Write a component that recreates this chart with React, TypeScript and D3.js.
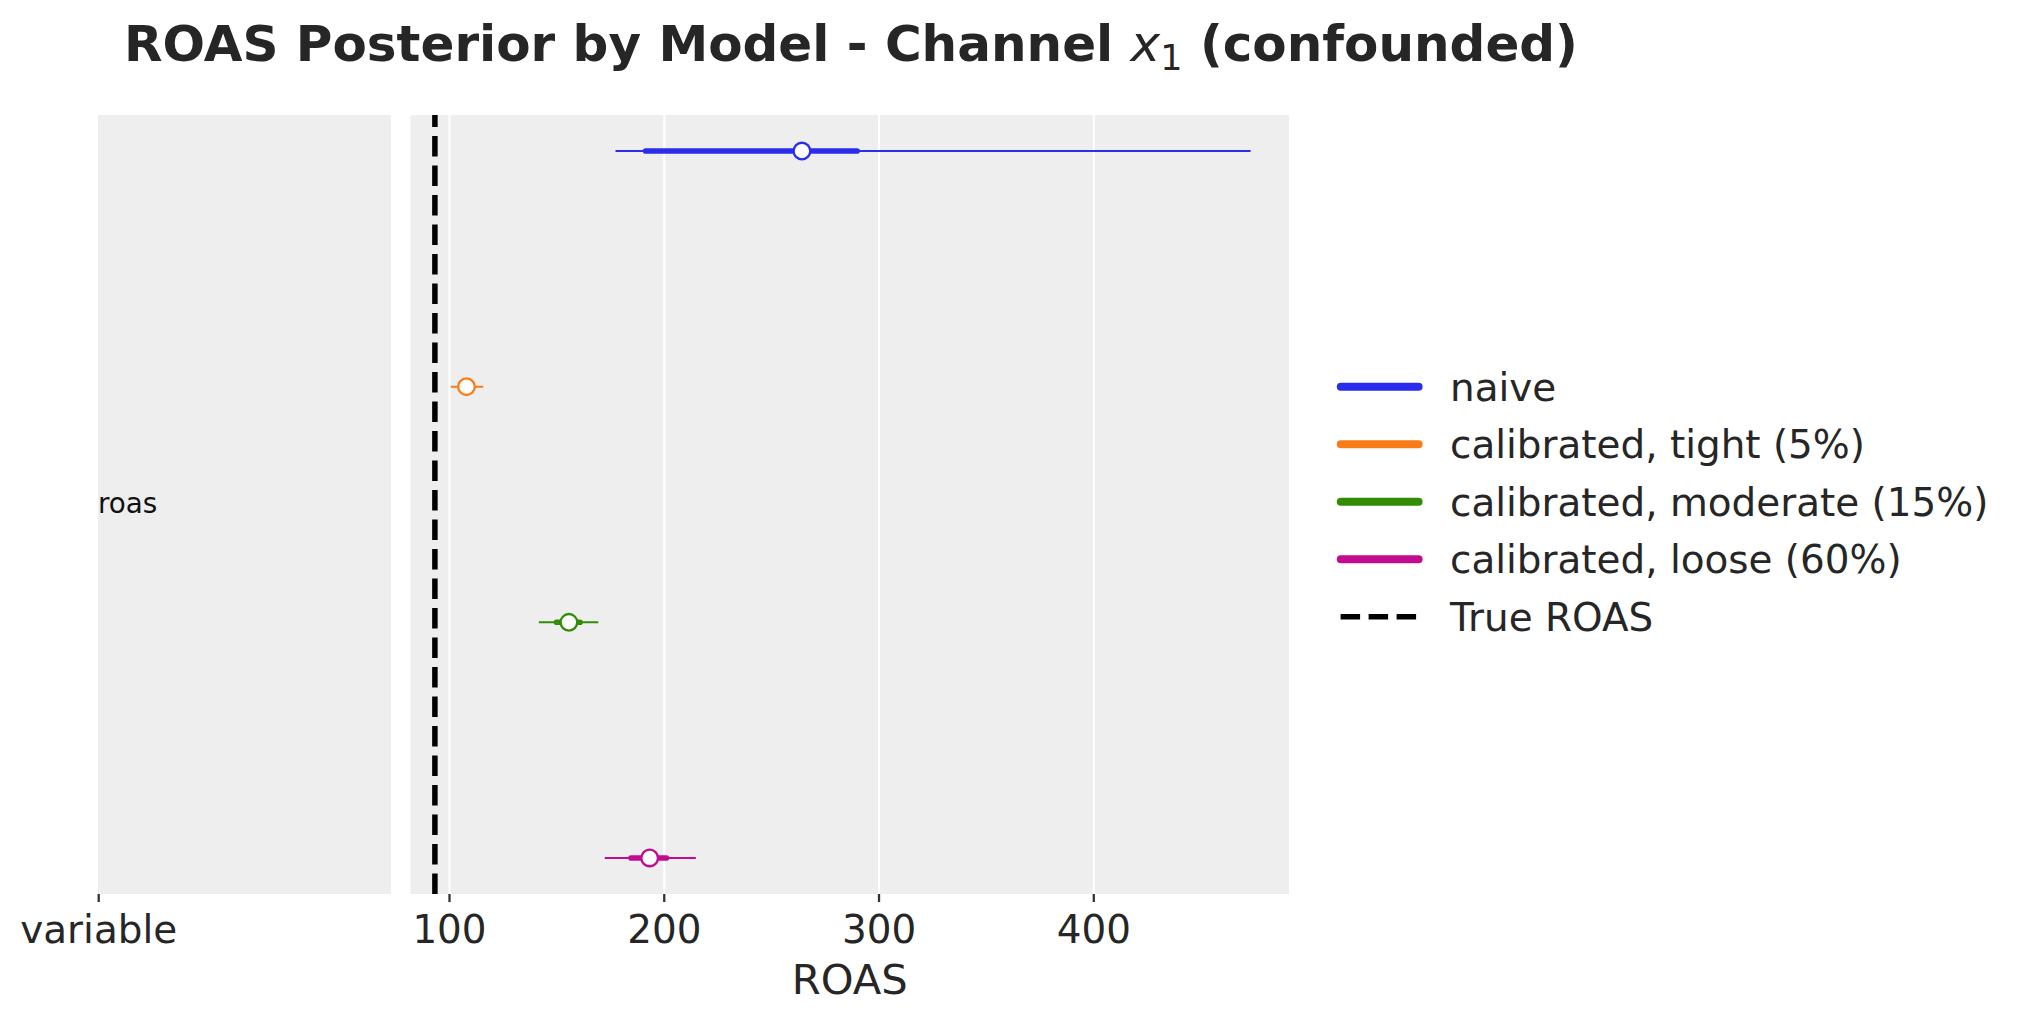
import { scaleLinear, scalePoint } from "d3";

type ModelSummary = {
  name: string;
  color: string;
  lo94: number;
  lo50: number;
  median: number;
  hi50: number;
  hi94: number;
};

const modelNames = [
  "naive",
  "calibrated, tight (5%)",
  "calibrated, moderate (15%)",
  "calibrated, loose (60%)"
];
const modelColors = ["#2a2eec", "#fa7c17", "#328c06", "#c10c90"];
const hdi94Low = [177.3, 100.6, 141.6, 172.3];
const hdi50Low = [191.3, 105.5, 149.8, 184.5];
const medians = [264.1, 107.9, 155.6, 193.2];
const hdi50High = [289.8, 110.5, 160.8, 201.0];
const hdi94High = [473.0, 115.7, 169.3, 214.7];
const trueRoas = 93.2;
const xTicks = [100, 200, 300, 400];
const xDomain = [81.84, 490.9];

const models: ModelSummary[] = modelNames.map((name, i) => ({
  name,
  color: modelColors[i],
  lo94: hdi94Low[i],
  lo50: hdi50Low[i],
  median: medians[i],
  hi50: hdi50High[i],
  hi94: hdi94High[i]
}));

const width = 2023;
const height = 1023;
const panelTop = 115;
const panelBottom = 894;
const leftPanel = { x0: 98, x1: 391 };
const rightPanel = { x0: 410.5, x1: 1289 };
const font = "'DejaVu Sans', sans-serif";
const textColor = "#262626";
const panelFill = "#eeeeee";
const tickFont = 38.9;

function App() {
  const x = scaleLinear().domain(xDomain).range([rightPanel.x0, rightPanel.x1]);
  const y = scalePoint<string>()
    .domain(modelNames)
    .range([panelTop, panelBottom])
    .padding(0.153);

  const legendY = scalePoint<string>()
    .domain([...modelNames, "True ROAS"])
    .range([386.7, 616.7]);

  return (
    <svg
      width={width}
      height={height}
      style={{ position: "absolute", left: 0, top: 0, background: "#fff" }}
      fontFamily={font}
    >
      {/* title */}
      <text
        x={851}
        y={61}
        textAnchor="middle"
        fontSize={50}
        fontWeight="bold"
        fill={textColor}
      >
        <tspan>ROAS Posterior by Model - Channel </tspan>
        <tspan fontStyle="italic" fontWeight="normal">x</tspan>
        <tspan fontWeight="normal" fontSize={35} dy={9}>1</tspan>
        <tspan dy={-9}> (confounded)</tspan>
      </text>

      {/* left panel: variable names */}
      <rect
        x={leftPanel.x0}
        y={panelTop}
        width={leftPanel.x1 - leftPanel.x0}
        height={panelBottom - panelTop}
        fill={panelFill}
      />
      <text
        x={leftPanel.x0}
        y={(panelTop + panelBottom) / 2}
        dominantBaseline="middle"
        fontSize={27.8}
        fill="#111"
      >
        roas
      </text>
      <line
        x1={leftPanel.x0 + 0.7}
        x2={leftPanel.x0 + 0.7}
        y1={panelBottom}
        y2={panelBottom + 8}
        stroke="#333"
        strokeWidth={2.3}
      />
      <text
        x={leftPanel.x0 + 0.7}
        y={942.5}
        textAnchor="middle"
        fontSize={tickFont}
        fill={textColor}
      >
        variable
      </text>

      {/* right panel: forest plot */}
      <rect
        x={rightPanel.x0}
        y={panelTop}
        width={rightPanel.x1 - rightPanel.x0}
        height={panelBottom - panelTop}
        fill={panelFill}
      />
      {xTicks.map((t) => (
        <g key={`tick-${t}`}>
          <line
            x1={x(t)}
            x2={x(t)}
            y1={panelTop}
            y2={panelBottom}
            stroke="#fff"
            strokeWidth={2}
          />
          <line
            x1={x(t)}
            x2={x(t)}
            y1={panelBottom}
            y2={panelBottom + 8}
            stroke="#333"
            strokeWidth={2.3}
          />
          <text
            x={x(t)}
            y={942.5}
            textAnchor="middle"
            fontSize={tickFont}
            fill={textColor}
          >
            {t}
          </text>
        </g>
      ))}
      <line
        x1={x(trueRoas)}
        x2={x(trueRoas)}
        y1={panelBottom}
        y2={panelTop}
        stroke="#000"
        strokeWidth={5.5}
        strokeDasharray="20.6 8.9"
      />
      {models.map((m) => {
        const cy = y(m.name) ?? 0;
        return (
          <g key={m.name}>
            <line
              x1={x(m.lo94)}
              x2={x(m.hi94)}
              y1={cy}
              y2={cy}
              stroke={m.color}
              strokeWidth={2}
            />
            <line
              x1={x(m.lo50)}
              x2={x(m.hi50)}
              y1={cy}
              y2={cy}
              stroke={m.color}
              strokeWidth={5.6}
              strokeLinecap="round"
            />
            <circle
              cx={x(m.median)}
              cy={cy}
              r={8.3}
              fill="#fff"
              stroke={m.color}
              strokeWidth={2.3}
            />
          </g>
        );
      })}
      <text
        x={(rightPanel.x0 + rightPanel.x1) / 2}
        y={994}
        textAnchor="middle"
        fontSize={41.7}
        fill={textColor}
      >
        ROAS
      </text>

      {/* legend */}
      {models.map((m) => {
        const ly = legendY(m.name) ?? 0;
        return (
          <g key={`legend-${m.name}`}>
            <line
              x1={1340.8}
              x2={1418.6}
              y1={ly}
              y2={ly}
              stroke={m.color}
              strokeWidth={8}
              strokeLinecap="round"
            />
            <text
              x={1450}
              y={ly}
              dy="0.36em"
              fontSize={tickFont}
              fill={textColor}
            >
              {m.name}
            </text>
          </g>
        );
      })}
      <line
        x1={1340.6}
        x2={1422.7}
        y1={legendY("True ROAS") ?? 0}
        y2={legendY("True ROAS") ?? 0}
        stroke="#000"
        strokeWidth={5.5}
        strokeDasharray="19.5 8.5"
      />
      <text
        x={1450}
        y={legendY("True ROAS") ?? 0}
        dy="0.36em"
        fontSize={tickFont}
        fill={textColor}
      >
        True ROAS
      </text>
    </svg>
  );
}

export default App;
